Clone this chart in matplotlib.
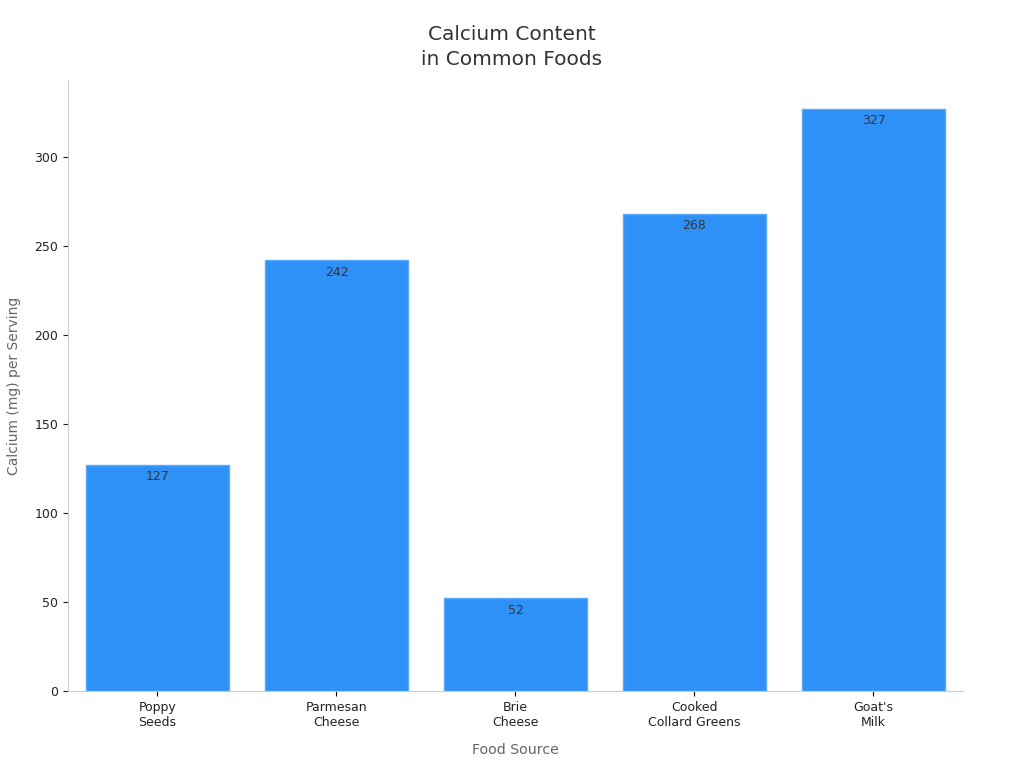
import matplotlib
matplotlib.use("Agg")
import matplotlib.pyplot as plt

# Dữ liệu
foods = ["Poppy\nSeeds", "Parmesan\nCheese", "Brie\nCheese", "Cooked\nCollard Greens", "Goat's\nMilk"]
calcium = [127, 242, 52, 268, 327]

plt.rcParams["font.family"] = ["DejaVu Sans"]

fig = plt.figure(figsize=(10.24, 7.68), dpi=100)
ax = fig.add_axes([0.0664, 0.1003, 0.874, 0.7955])

bars = ax.bar(range(len(foods)), calcium, width=0.8, color="#2E91F7",
              edgecolor="#5AAAF9", linewidth=1)

# Giá trị trên cột
for b, v in zip(bars, calcium):
    ax.text(b.get_x() + b.get_width() / 2, v - 3, f"{v}", ha="center", va="top",
            fontsize=9, color="#333333")

ax.set_xlim(-0.5, 4.5)
ax.set_ylim(0, max(calcium) * 1.05)
ax.set_xticks(range(len(foods)))
ax.set_xticklabels(foods, fontsize=9, color="#222222")
ax.set_yticks([0, 50, 100, 150, 200, 250, 300])
ax.tick_params(axis="y", labelsize=9, colors="#222222")
for t in ax.get_yticklines() + ax.get_xticklines():
    t.set_color("#666666")

for s in ["top", "right"]:
    ax.spines[s].set_visible(False)
for s in ["left", "bottom"]:
    ax.spines[s].set_color("#CCCCCC")

ax.set_xlabel("Food Source", fontsize=10.2, color="#666666", labelpad=10)
ax.set_ylabel("Calcium (mg) per Serving", fontsize=10, color="#666666", labelpad=10)
fig.suptitle("Calcium Content\nin Common Foods", fontsize=14.5, color="#333333",
             y=0.968, linespacing=1.4)

fig.savefig("out.png", dpi=100)
